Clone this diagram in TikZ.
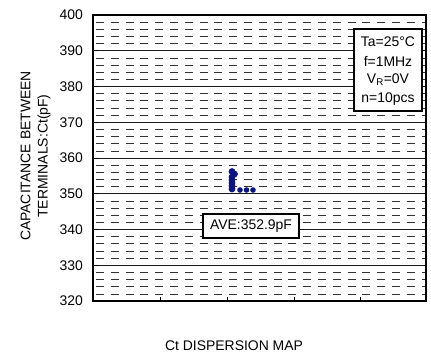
\documentclass[tikz,border=0pt]{standalone}
\usepackage{fontspec}
\setmainfont{Liberation Sans}
\definecolor{dotblue}{RGB}{10,20,130}
\begin{document}
\begin{tikzpicture}[x=1bp,y=-1bp,
  every node/.style={inner sep=0pt,font=\fontsize{14}{16}\selectfont},
  majorline/.style={black!90,line width=0.6bp},
  minorline/.style={black!80,line width=0.7bp,dash pattern=on 8bp off 6.8bp,dash phase=11.8bp},
  frameline/.style={black,line width=1.6bp},
  boxstyle/.style={draw=black,line width=1.1bp,fill=white},
  dotstyle/.style={circle,fill=dotblue,minimum size=6.8bp,inner sep=0pt},
  smalldot/.style={circle,fill=dotblue,minimum size=5.6bp,inner sep=0pt}]
\useasboundingbox (0,0) rectangle (431,356);
% minor dashed grid
\foreach \m in {320,330,...,390}{
  \foreach \k in {2,4,6,8}{
    \draw[minorline] (93,{15+(400-\m-\k)*3.575}) -- (426,{15+(400-\m-\k)*3.575});
  }
}
% major grid and labels
\foreach \v in {330,340,...,390}{
  \draw[majorline] (93,{15+(400-\v)*3.575}) -- (426,{15+(400-\v)*3.575});
  \draw[black,line width=0.8bp] (93,{15+(400-\v)*3.575}) -- (98,{15+(400-\v)*3.575});
}
\foreach \v in {320,330,...,400}{
  \node[anchor=east] (lab\v) at (83,{15+(400-\v)*3.575}) {\v};
}
% frame
\draw[frameline] (93,15) rectangle (426,301);
% x ticks
\foreach \x [count=\i] in {160.7,227.3,294,360.7}{
  \draw[black,line width=0.8bp] (\x,301) -- (\x,296.5);
}
% data points
\foreach \px/\py [count=\i] in {232/171.5,234.5/174,232/177,232/180,232/183,232/186,232/189}{
  \node[dotstyle] (p\i) at (\px,\py) {};
}
\foreach \px/\py [count=\i] in {240/190,246.5/190,253/190}{
  \node[smalldot] (q\i) at (\px,\py) {};
}
% legend box
\node[boxstyle,minimum width=68bp,minimum height=82bp] (legend) at (388,70) {};
\node (l1) at (388,42) {Ta=25\textdegree C};
\node (l2) at (388,61) {f=1MHz};
\node (l3) at (388,80) {V\textsubscript{R}=0V};
\node (l4) at (388,99.5) {n=10pcs};
% average box
\node[boxstyle,minimum width=96bp,minimum height=24bp] (ave) at (251,226) {AVE:352.9pF};
% axis labels
\node[rotate=90] (ylab1) at (25.5,156) {CAPACITANCE BETWEEN};
\node[rotate=90] (ylab2) at (44,156) {TERMINALS:Ct(pF)};
\node (xlab) at (234,346) {Ct DISPERSION MAP};
\end{tikzpicture}
\end{document}
